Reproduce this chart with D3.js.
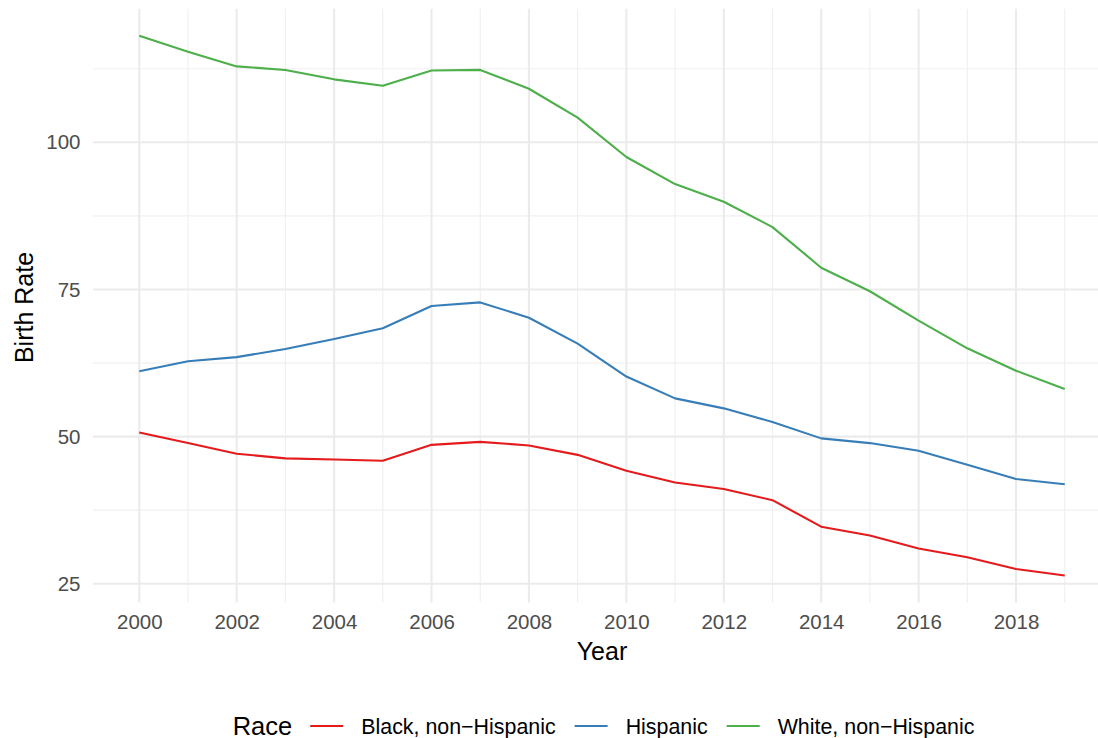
<!DOCTYPE html>
<html>
<head>
<meta charset="utf-8">
<script src="https://cdnjs.cloudflare.com/ajax/libs/d3/7.8.5/d3.min.js"></script>
<style>
  body { margin: 0; background: #fff; }
  text { font-family: "Liberation Sans", Arial, sans-serif; }
</style>
</head>
<body>
<div id="my_dataviz"></div>
<script>
// data
var years = [2000, 2001, 2002, 2003, 2004, 2005, 2006, 2007, 2008, 2009,
             2010, 2011, 2012, 2013, 2014, 2015, 2016, 2017, 2018, 2019];
var races = ["Black, non\u2212Hispanic", "Hispanic", "White, non\u2212Hispanic"];
var black = [50.7, 48.9, 47.1, 46.3, 46.1, 45.9, 48.6, 49.1, 48.5, 46.9,
             44.2, 42.2, 41.1, 39.2, 34.7, 33.2, 31.0, 29.5, 27.5, 26.4];
var hispanic = [61.1, 62.8, 63.5, 64.9, 66.6, 68.4, 72.2, 72.8, 70.2, 65.8,
                60.2, 56.5, 54.8, 52.5, 49.7, 48.9, 47.6, 45.2, 42.8, 41.9];
var white = [118.1, 115.4, 112.9, 112.3, 110.7, 109.6, 112.2, 112.3, 109.1, 104.2,
             97.5, 92.9, 89.9, 85.6, 78.7, 74.7, 69.7, 65.0, 61.2, 58.1];
var yTicks = [25, 50, 75, 100];
var xTicks = [2000, 2002, 2004, 2006, 2008, 2010, 2012, 2014, 2016, 2018];
var colors = ["#E41A1C", "#377EB8", "#4DAF4A"];

var W = 1098, H = 738;
var panel = {left: 93, right: 1111, top: 8.8, bottom: 602.5};

var svg = d3.select("#my_dataviz")
    .append("svg")
    .attr("width", W)
    .attr("height", H)
    .style("display", "block");

// scales with ggplot style 5% expansion
var allVals = black.concat(hispanic, white);
var yMin = d3.min(allVals), yMax = d3.max(allVals);
var yPad = (yMax - yMin) * 0.05;
var y = d3.scaleLinear()
    .domain([yMin - yPad, yMax + yPad])
    .range([panel.bottom, panel.top]);

var xPad = (d3.max(years) - d3.min(years)) * 0.05;
var x = d3.scaleLinear()
    .domain([d3.min(years) - xPad, d3.max(years) + xPad])
    .range([panel.left, panel.right]);

// grid lines
var yMinor = [12.5, 37.5, 62.5, 87.5, 112.5].filter(function(v) {
    return v > y.domain()[0] && v < y.domain()[1]; });
var xMinor = years.filter(function(v) { return v % 2 === 1; });

var grid = svg.append("g");
grid.selectAll(".hminor")
    .data(yMinor)
    .enter()
    .append("line")
    .attr("x1", panel.left).attr("x2", panel.right)
    .attr("y1", function(d) { return y(d); })
    .attr("y2", function(d) { return y(d); })
    .attr("stroke", "#F0F0F0")
    .attr("stroke-width", 1.2);
grid.selectAll(".vminor")
    .data(xMinor)
    .enter()
    .append("line")
    .attr("y1", panel.top).attr("y2", panel.bottom)
    .attr("x1", function(d) { return x(d); })
    .attr("x2", function(d) { return x(d); })
    .attr("stroke", "#F0F0F0")
    .attr("stroke-width", 1.2);
grid.selectAll(".hmajor")
    .data(yTicks)
    .enter()
    .append("line")
    .attr("x1", panel.left).attr("x2", panel.right)
    .attr("y1", function(d) { return y(d); })
    .attr("y2", function(d) { return y(d); })
    .attr("stroke", "#EBEBEB")
    .attr("stroke-width", 2.1);
grid.selectAll(".vmajor")
    .data(xTicks)
    .enter()
    .append("line")
    .attr("y1", panel.top).attr("y2", panel.bottom)
    .attr("x1", function(d) { return x(d); })
    .attr("x2", function(d) { return x(d); })
    .attr("stroke", "#EBEBEB")
    .attr("stroke-width", 2.1);

// axes (text only, like theme_minimal)
var yAxis = svg.append("g")
    .attr("transform", "translate(" + (panel.left - 7) + ",0)")
    .call(d3.axisLeft(y).tickValues(yTicks).tickSize(0).tickPadding(0));
yAxis.select(".domain").remove();
yAxis.selectAll("text")
    .attr("x", -5.5)
    .style("font-size", "20.5px")
    .style("font-family", "'Liberation Sans', Arial, sans-serif")
    .attr("fill", "#4D4D4D");

var xAxis = svg.append("g")
    .attr("transform", "translate(0," + panel.bottom + ")")
    .call(d3.axisBottom(x).tickValues(xTicks).tickFormat(d3.format("d")).tickSize(0).tickPadding(0));
xAxis.select(".domain").remove();
xAxis.selectAll("text")
    .attr("y", 12)
    .style("font-size", "20.5px")
    .style("font-family", "'Liberation Sans', Arial, sans-serif")
    .attr("fill", "#4D4D4D");

// axis titles
svg.append("text")
    .attr("x", (panel.left + panel.right) / 2)
    .attr("y", 660)
    .attr("text-anchor", "middle")
    .style("font-size", "25px")
    .attr("fill", "#000")
    .text("Year");

svg.append("text")
    .attr("transform", "translate(33,307.5)rotate(-90)")
    .attr("text-anchor", "middle")
    .style("font-size", "25px")
    .attr("fill", "#000")
    .text("Birth Rate");

// lines
var series = [black, hispanic, white];
var line = d3.line()
    .x(function(d, i) { return x(years[i]); })
    .y(function(d) { return y(d); });

svg.selectAll(".series")
    .data(series)
    .enter()
    .append("path")
    .attr("d", function(d) { return line(d); })
    .attr("fill", "none")
    .attr("stroke", function(d, i) { return colors[i]; })
    .attr("stroke-width", 2.1)
    .attr("stroke-linejoin", "round");

// legend at bottom
var legend = svg.append("g");
var lx = 232.7;
var title = legend.append("text")
    .attr("x", lx)
    .attr("y", 735)
    .style("font-size", "25.5px")
    .attr("fill", "#000")
    .text("Race");
lx += title.node().getComputedTextLength() + 18;

races.forEach(function(r, i) {
    legend.append("line")
        .attr("x1", lx).attr("x2", lx + 33)
        .attr("y1", 726).attr("y2", 726)
        .attr("stroke", colors[i])
        .attr("stroke-width", 2.1);
    lx += 33 + 18;
    var t = legend.append("text")
        .attr("x", lx)
        .attr("y", 734)
        .style("font-size", "21.4px")
        .attr("fill", "#000")
        .text(r);
    lx += t.node().getComputedTextLength() + 19;
});
</script>
</body>
</html>
